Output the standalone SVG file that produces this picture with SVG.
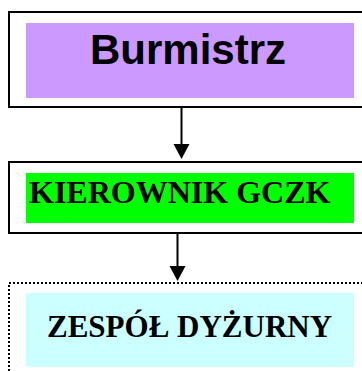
<svg xmlns="http://www.w3.org/2000/svg" width="362" height="371" viewBox="0 0 362 371">
<style>
.frame{fill:#fff;stroke:#000;stroke-width:2}
.dotted{fill:#fff;stroke:#000;stroke-width:2;stroke-dasharray:2 2}
.conn{stroke:#000;stroke-width:2;fill:none}
.head{fill:#000}
.sans{font-family:"Liberation Sans",Arial,sans-serif;font-weight:bold;fill:#000}
.serif{font-family:"Liberation Serif","Times New Roman",serif;font-weight:bold;fill:#000}
</style>
<rect width="362" height="371" fill="#fff"/>
<g id="burmistrz">
<rect class="frame" x="9" y="12" width="360" height="95"/>
<rect x="26" y="23" width="328" height="75" fill="#cc99ff"/>
<text class="sans" x="188" y="64" font-size="42" text-anchor="middle">Burmistrz</text>
</g>
<g id="kierownik">
<rect class="frame" x="9" y="162" width="360" height="71"/>
<rect x="26" y="173" width="328" height="50" fill="#00ff00"/>
<text class="serif" x="29" y="203" font-size="32">KIEROWNIK GCZK</text>
</g>
<g id="zespol">
<rect class="dotted" x="9" y="283" width="360" height="100"/>
<rect x="26" y="293" width="328" height="74" fill="#ccffff"/>
<text class="serif" x="47" y="337" font-size="31">ZESPÓŁ DYŻURNY</text>
</g>
<g id="connectors">
<line class="conn" x1="181.5" y1="108" x2="181.5" y2="146"/>
<path class="head" d="M173.5,144 L189.5,144 L181.5,159 Z"/>
<line class="conn" x1="177.5" y1="234" x2="177.5" y2="268"/>
<path class="head" d="M169.5,266 L185.5,266 L177.5,281 Z"/>
</g>
</svg>
